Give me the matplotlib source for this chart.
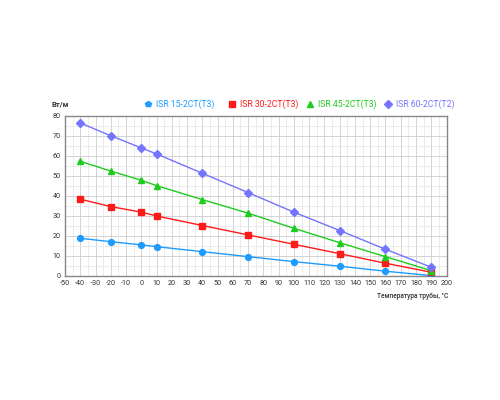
import matplotlib.pyplot as plt
from matplotlib.lines import Line2D
from matplotlib.ticker import MultipleLocator

# temperature points
temps = [-40, -20, 0, 10, 40, 70, 100, 130, 160, 190]

isr15 = [18.7, 17.0, 15.4, 14.5, 12.0, 9.5, 7.0, 4.7, 2.2, 0.0]
isr30 = [38.3, 34.6, 31.8, 29.9, 25.1, 20.4, 15.7, 11.0, 6.2, 1.7]
isr45 = [57.3, 52.4, 47.8, 45.1, 38.1, 31.3, 23.7, 16.5, 9.5, 2.5]
isr60 = [76.5, 70.1, 64.0, 61.0, 51.3, 41.6, 31.8, 22.6, 13.2, 4.2]

labels = ['ISR 15-2CT(T3)', 'ISR 30-2CT(T3)', 'ISR 45-2CT(T3)', 'ISR 60-2CT(T2)']
colors = ['#1e9bff', '#ff1a1a', '#1ecc1e', '#7474ff']
markers = ['o', 's', '^', 'D']
leg_markers = ['p', 's', '^', 'D']

plt.rcParams['font.family'] = ['Roboto', 'DejaVu Sans']
plt.rcParams['axes.unicode_minus'] = False

fig = plt.figure(figsize=(5, 4), dpi=100)
ax = fig.add_axes([0.13, 0.311, 0.763, 0.399])

for ys, c, m, msz in zip([isr15, isr30, isr45, isr60], colors, markers, [4.2, 4.2, 4.6, 3.8]):
    ax.plot(temps, ys, color=c, lw=1.0, marker=m, ms=msz, zorder=3)

ax.set_xlim(-50, 200)
ax.set_ylim(0, 80)
ax.xaxis.set_major_locator(MultipleLocator(10))
ax.yaxis.set_major_locator(MultipleLocator(10))
ax.xaxis.set_minor_locator(MultipleLocator(5))
ax.yaxis.set_minor_locator(MultipleLocator(5))
ax.grid(which='major', color='#cccccc', lw=0.6)
ax.grid(which='minor', color='#e4e4e4', lw=0.5)
ax.set_axisbelow(True)
ax.tick_params(which='both', length=0, labelsize=5.2, colors='#333333', pad=3)
for s in ax.spines.values():
    s.set_color('#888888')
    s.set_linewidth(1.0)

fig.text(0.104, 0.74, 'Вт/м', fontsize=5.5, fontweight='bold', color='#333333', va='center')
fig.text(0.896, 0.26, 'Температура трубы, °C', fontsize=4.8, fontweight='medium',
         color='#333333', ha='right', va='center')

# legend entries placed one by one across the top
leg_x = [0.296, 0.464, 0.620, 0.776]
for lx, m, c, lab in zip(leg_x, leg_markers, colors, labels):
    fig.add_artist(Line2D([lx], [0.74], ls='none', marker=m, color=c, ms=4,
                          transform=fig.transFigure))
    fig.text(lx + 0.016, 0.74, lab, fontsize=6.2, color=c, va='center')

fig.savefig('out.png', dpi=100)
